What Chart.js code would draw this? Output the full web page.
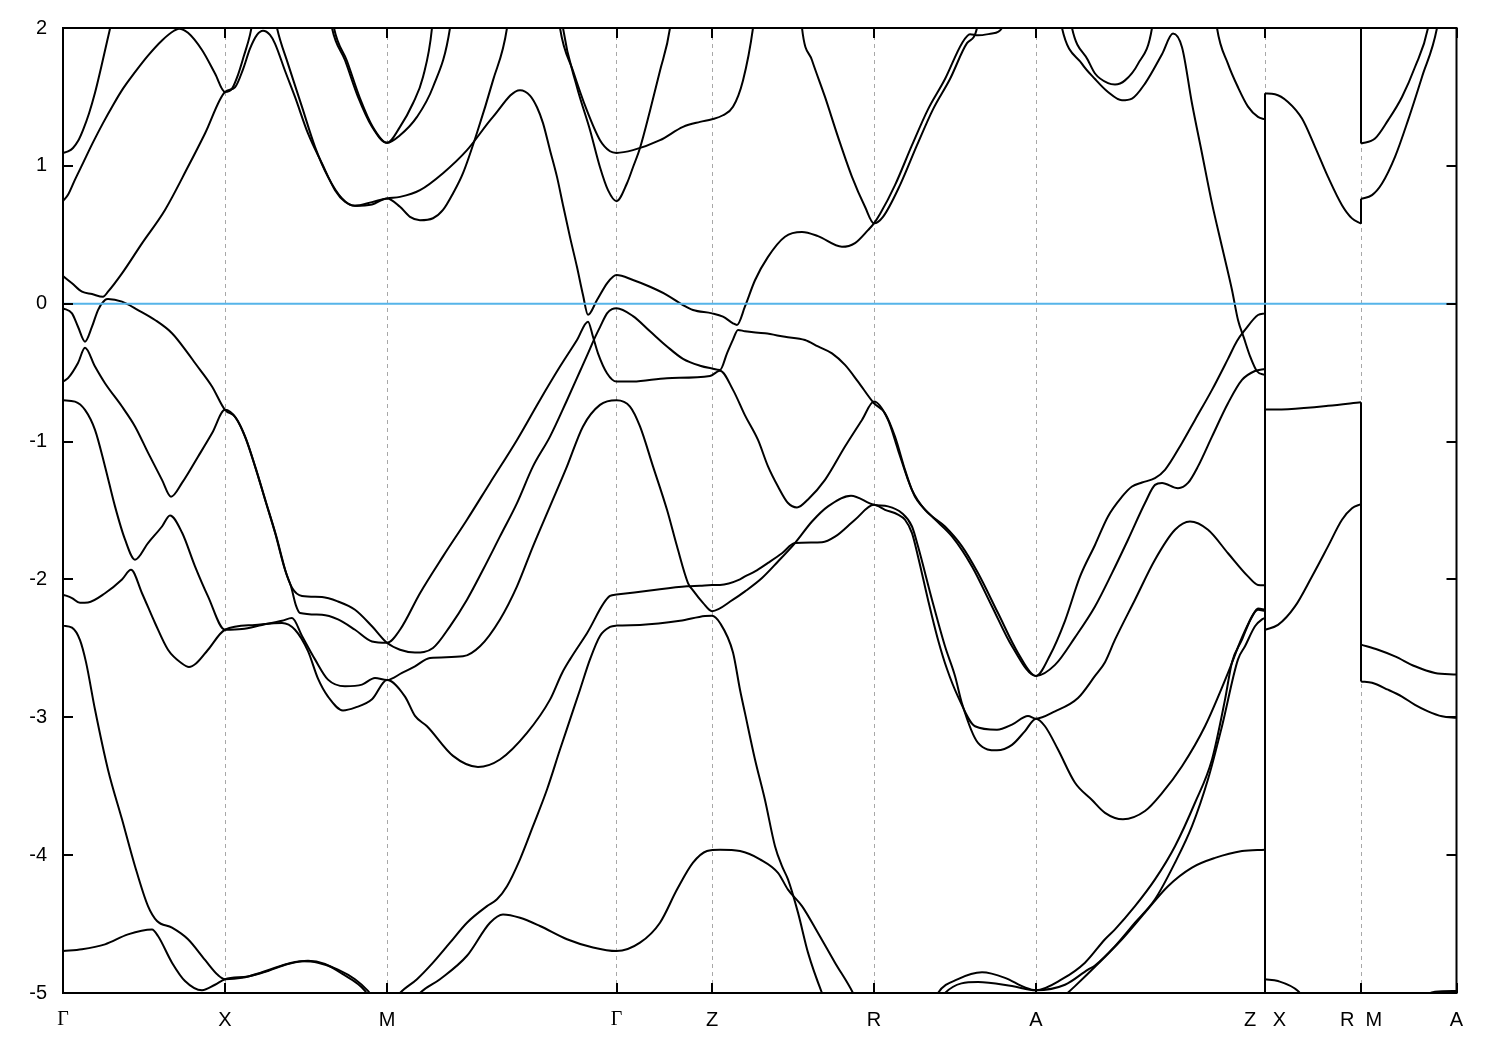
<!DOCTYPE html>
<html>
<head>
<meta charset="utf-8">
<title>Band structure</title>
<script src="https://cdn.jsdelivr.net/npm/chart.js@4.4.1/dist/chart.umd.min.js"></script>
<style>
  html, body { margin: 0; padding: 0; background: #fff; }
  #wrap { width: 1500px; height: 1050px; }
</style>
</head>
<body>
<div id="wrap"><canvas id="bands" width="1500" height="1050"></canvas></div>
<script>
// high symmetry points along the k-path (path length, arbitrary units)
const kTicks = [0, 1.62, 3.24, 5.535, 6.49, 8.11, 9.73, 12.02, 12.98, 13.935];
const kLabels = ['Γ', 'X', 'M', 'Γ', 'Z', 'R', 'A', 'Z   X', 'R  M', 'A'];
const energyMin = -5;
const energyMax = 2;
const fermiLevel = 0;

// bands along Γ-X-M-Γ-Z-R-A-Z, points are [k, E(eV)]
const cb1 = [[0,1.094],[0.05,1.105],[0.10,1.13],[0.15,1.18],[0.20,1.26],[0.26,1.38],[0.32,1.53],[0.38,1.71],[0.44,1.90],[0.48,2.03],[0.52,2.2]];
const cb2 = [[0,0.744],[0.05,0.79],[0.12,0.90],[0.20,1.02],[0.30,1.17],[0.40,1.31],[0.50,1.44],[0.60,1.56],[0.72,1.68],[0.85,1.80],[0.99,1.91],[1.11,1.98],[1.16,1.995],[1.25,1.965],[1.39,1.84],[1.52,1.67],[1.62,1.536],[1.69,1.56],[1.75,1.66],[1.81,1.80],[1.87,1.95],[1.91,2.1]];
const cb3 = [[0,0.20],[0.09,0.148],[0.19,0.087],[0.29,0.07],[0.40,0.05],[0.45,0.087],[0.59,0.22],[0.79,0.438],[1.02,0.68],[1.25,0.993],[1.42,1.235],[1.62,1.536],[1.72,1.57],[1.80,1.70],[1.87,1.85],[1.94,1.95],[2.00,1.98],[2.07,1.95],[2.12,1.887],[2.22,1.69],[2.32,1.50],[2.45,1.235],[2.59,1.017],[2.72,0.824],[2.82,0.739],[2.92,0.71],[3.09,0.737],[3.24,0.764],[3.37,0.775],[3.57,0.824],[3.80,0.947],[4.04,1.114],[4.30,1.355],[4.57,1.549],[4.67,1.51],[4.74,1.425],[4.80,1.31],[4.87,1.114],[4.94,0.92],[5.00,0.715],[5.07,0.483],[5.14,0.266],[5.20,0.063],[5.25,-0.08],[5.34,0.027],[5.44,0.148],[5.50,0.196],[5.535,0.208],[5.70,0.172],[5.87,0.123],[6.04,0.063],[6.20,-0.01],[6.30,-0.046],[6.49,-0.07],[6.60,-0.094],[6.70,-0.142],[6.74,-0.154],[6.82,-0.02],[6.92,0.17],[7.05,0.34],[7.22,0.486],[7.39,0.52],[7.55,0.49],[7.79,0.413],[7.92,0.44],[8.05,0.534],[8.11,0.583],[8.17,0.65],[8.32,0.86],[8.49,1.15],[8.65,1.41],[8.82,1.63],[8.99,1.89],[9.07,1.955],[9.15,1.947],[9.29,1.96],[9.39,2.0],[9.43,2.2]];
const cb4 = [[2.09,2.2],[2.14,2.0],[2.25,1.74],[2.39,1.428],[2.52,1.138],[2.65,0.92],[2.79,0.764],[2.92,0.71],[3.09,0.72],[3.24,0.764],[3.37,0.703],[3.47,0.63],[3.57,0.606],[3.70,0.62],[3.80,0.68],[3.90,0.80],[4.00,0.947],[4.14,1.24],[4.30,1.62],[4.44,2.0],[4.47,2.2]];
const cb5 = [[2.65,2.2],[2.69,2.0],[2.82,1.766],[2.95,1.50],[3.09,1.283],[3.24,1.167],[3.37,1.283],[3.50,1.454],[3.60,1.645],[3.69,2.0],[3.71,2.2]];
const cb6 = [[2.67,2.2],[2.71,2.0],[2.84,1.76],[2.97,1.49],[3.10,1.28],[3.24,1.167],[3.37,1.222],[3.54,1.355],[3.70,1.572],[3.87,2.0],[3.90,2.2]];
const cb7 = [[4.94,2.2],[4.97,2.0],[5.10,1.69],[5.24,1.40],[5.37,1.186],[5.47,1.106],[5.535,1.094],[5.70,1.114],[5.97,1.186],[6.20,1.283],[6.37,1.319],[6.49,1.338],[6.60,1.367],[6.70,1.428],[6.80,1.62],[6.90,2.0],[6.93,2.2]];
const cb8 = [[4.97,2.2],[5.00,2.0],[5.14,1.57],[5.27,1.26],[5.37,0.99],[5.45,0.824],[5.535,0.744],[5.64,0.874],[5.70,0.99],[5.77,1.13],[5.87,1.40],[5.97,1.69],[6.07,2.0],[6.10,2.2]];
const cb9 = [[7.37,2.2],[7.39,2.0],[7.49,1.766],[7.62,1.50],[7.75,1.21],[7.89,0.92],[8.02,0.703],[8.11,0.583],[8.20,0.63],[8.37,0.86],[8.54,1.15],[8.70,1.41],[8.87,1.63],[9.04,1.89],[9.14,2.0],[9.17,2.2]];
const cb10 = [[9.95,2.2],[9.99,2.0],[10.19,1.74],[10.32,1.63],[10.45,1.536],[10.59,1.476],[10.69,1.488],[10.82,1.597],[10.99,1.81],[11.10,1.96],[11.19,1.86],[11.29,1.452],[11.39,1.09],[11.49,0.728],[11.59,0.413],[11.69,0.1],[11.75,-0.118],[11.81,-0.25],[11.87,-0.38],[11.94,-0.49],[12.02,-0.518]];
const cb11 = [[10.05,2.2],[10.09,2.0],[10.25,1.766],[10.32,1.67],[10.45,1.60],[10.52,1.59],[10.62,1.62],[10.75,1.74],[10.89,2.0],[10.92,2.2]];
const cb12 = [[11.51,2.2],[11.54,2.0],[11.65,1.74],[11.75,1.57],[11.85,1.43],[11.95,1.355],[12.02,1.336]];

const vb1 = [[0,-0.033],[0.09,-0.07],[0.15,-0.167],[0.22,-0.275],[0.29,-0.167],[0.35,-0.046],[0.42,0.027],[0.45,0.034],[0.59,0.015],[0.75,-0.046],[0.92,-0.118],[1.09,-0.214],[1.25,-0.36],[1.32,-0.43],[1.49,-0.60],[1.62,-0.77],[1.72,-0.82],[1.82,-0.964],[1.92,-1.18],[2.02,-1.42],[2.12,-1.66],[2.22,-1.93],[2.29,-2.06],[2.39,-2.12],[2.59,-2.128],[2.75,-2.16],[2.92,-2.22],[3.09,-2.34],[3.24,-2.46],[3.37,-2.51],[3.52,-2.53],[3.70,-2.497],[3.87,-2.34],[4.04,-2.147],[4.20,-1.93],[4.37,-1.688],[4.54,-1.446],[4.70,-1.18],[4.87,-0.964],[5.04,-0.70],[5.17,-0.49],[5.25,-0.36],[5.31,-0.26],[5.37,-0.17],[5.44,-0.07],[5.49,-0.04],[5.535,-0.033],[5.70,-0.09],[5.87,-0.20],[6.04,-0.31],[6.20,-0.40],[6.37,-0.45],[6.49,-0.47],[6.57,-0.48],[6.64,-0.36],[6.70,-0.26],[6.75,-0.19],[6.82,-0.20],[7.02,-0.215],[7.22,-0.24],[7.42,-0.263],[7.55,-0.31],[7.69,-0.36],[7.82,-0.444],[7.95,-0.565],[8.11,-0.722],[8.22,-0.794],[8.32,-0.964],[8.42,-1.205],[8.49,-1.35],[8.62,-1.495],[8.82,-1.616],[8.99,-1.76],[9.15,-1.954],[9.35,-2.244],[9.55,-2.533],[9.73,-2.70],[9.87,-2.55],[10.02,-2.30],[10.17,-1.98],[10.32,-1.75],[10.45,-1.543],[10.59,-1.40],[10.69,-1.326],[10.79,-1.297],[10.92,-1.265],[11.02,-1.205],[11.19,-1.01],[11.32,-0.843],[11.49,-0.625],[11.65,-0.40],[11.74,-0.27],[11.82,-0.19],[11.95,-0.082],[12.02,-0.07]];
const vb2 = [[0,-0.565],[0.05,-0.54],[0.15,-0.43],[0.22,-0.32],[0.32,-0.456],[0.42,-0.577],[0.59,-0.746],[0.72,-0.89],[0.85,-1.08],[0.99,-1.278],[1.08,-1.40],[1.19,-1.30],[1.35,-1.11],[1.49,-0.94],[1.62,-0.77],[1.73,-0.83],[1.83,-0.98],[1.93,-1.20],[2.03,-1.44],[2.13,-1.68],[2.23,-1.95],[2.28,-2.05],[2.33,-2.19],[2.37,-2.243],[2.59,-2.256],[2.75,-2.29],[2.92,-2.365],[3.09,-2.45],[3.24,-2.46],[3.37,-2.365],[3.57,-2.10],[3.80,-1.833],[4.04,-1.567],[4.27,-1.30],[4.54,-0.988],[4.77,-0.698],[4.97,-0.456],[5.14,-0.263],[5.25,-0.13],[5.30,-0.24],[5.35,-0.36],[5.44,-0.504],[5.535,-0.565],[5.70,-0.565],[6.04,-0.54],[6.47,-0.524],[6.57,-0.486],[6.70,-0.625],[6.82,-0.81],[6.95,-0.988],[7.05,-1.18],[7.15,-1.326],[7.25,-1.446],[7.34,-1.478],[7.45,-1.42],[7.62,-1.278],[7.82,-1.036],[7.99,-0.843],[8.11,-0.71],[8.25,-0.843],[8.35,-1.06],[8.45,-1.278],[8.52,-1.40],[8.69,-1.543],[8.89,-1.688],[9.09,-1.906],[9.29,-2.196],[9.49,-2.485],[9.73,-2.70],[9.92,-2.62],[10.12,-2.42],[10.32,-2.196],[10.49,-1.954],[10.65,-1.712],[10.82,-1.446],[10.92,-1.314],[10.99,-1.30],[11.15,-1.338],[11.25,-1.30],[11.35,-1.18],[11.49,-0.964],[11.65,-0.722],[11.79,-0.553],[11.92,-0.488],[12.02,-0.473]];
const vb3 = [[0,-0.70],[0.12,-0.71],[0.22,-0.77],[0.32,-0.915],[0.42,-1.18],[0.52,-1.47],[0.62,-1.71],[0.72,-1.857],[0.85,-1.736],[0.99,-1.616],[1.07,-1.536],[1.19,-1.66],[1.32,-1.905],[1.45,-2.123],[1.62,-2.365],[1.79,-2.36],[1.99,-2.33],[2.19,-2.30],[2.29,-2.28],[2.39,-2.41],[2.52,-2.58],[2.65,-2.727],[2.82,-2.775],[2.99,-2.763],[3.12,-2.715],[3.24,-2.73],[3.39,-2.678],[3.52,-2.63],[3.67,-2.57],[4.00,-2.558],[4.17,-2.485],[4.37,-2.29],[4.54,-2.05],[4.70,-1.76],[4.87,-1.47],[5.04,-1.18],[5.20,-0.89],[5.37,-0.734],[5.535,-0.70],[5.67,-0.746],[5.77,-0.89],[5.90,-1.18],[6.04,-1.495],[6.14,-1.76],[6.25,-2.026],[6.30,-2.08],[6.40,-2.17],[6.49,-2.23],[6.70,-2.147],[6.82,-2.087],[6.99,-1.99],[7.15,-1.87],[7.32,-1.736],[7.49,-1.58],[7.65,-1.47],[7.88,-1.393],[8.11,-1.459],[8.25,-1.47],[8.39,-1.52],[8.49,-1.616],[8.55,-1.76],[8.69,-2.147],[8.82,-2.485],[8.92,-2.70],[8.99,-2.90],[9.15,-3.186],[9.34,-3.24],[9.49,-3.20],[9.62,-3.10],[9.73,-3.01],[9.82,-3.065],[9.95,-3.234],[10.12,-3.475],[10.29,-3.60],[10.42,-3.693],[10.60,-3.74],[10.82,-3.68],[10.99,-3.55],[11.19,-3.355],[11.42,-3.065],[11.65,-2.678],[11.79,-2.42],[11.89,-2.27],[11.95,-2.21],[12.02,-2.22]];
const vb4 = [[0,-2.11],[0.09,-2.135],[0.17,-2.17],[0.25,-2.167],[0.42,-2.10],[0.59,-2.00],[0.68,-1.93],[0.79,-2.10],[0.92,-2.316],[1.05,-2.51],[1.19,-2.61],[1.26,-2.635],[1.33,-2.61],[1.45,-2.51],[1.62,-2.365],[1.92,-2.33],[2.19,-2.316],[2.32,-2.365],[2.45,-2.52],[2.55,-2.72],[2.65,-2.85],[2.80,-2.95],[2.92,-2.93],[3.09,-2.87],[3.24,-2.73],[3.42,-2.85],[3.52,-2.99],[3.64,-3.065],[3.90,-3.28],[4.15,-3.36],[4.37,-3.306],[4.64,-3.113],[4.87,-2.872],[4.99,-2.68],[5.07,-2.58],[5.24,-2.39],[5.47,-2.12],[5.535,-2.11],[5.87,-2.08],[6.24,-2.05],[6.37,-2.046],[6.49,-2.04],[6.57,-2.04],[6.77,-2.0],[6.82,-1.978],[6.92,-1.942],[7.05,-1.88],[7.19,-1.81],[7.32,-1.736],[7.59,-1.73],[7.72,-1.69],[7.92,-1.567],[8.11,-1.459],[8.22,-1.495],[8.35,-1.53],[8.42,-1.567],[8.49,-1.664],[8.55,-1.833],[8.65,-2.147],[8.75,-2.437],[8.84,-2.65],[8.95,-2.85],[9.12,-3.065],[9.34,-3.09],[9.49,-3.053],[9.65,-2.99],[9.73,-3.01],[9.92,-2.957],[10.15,-2.86],[10.32,-2.70],[10.42,-2.60],[10.52,-2.437],[10.72,-2.147],[10.92,-1.857],[11.12,-1.64],[11.27,-1.58],[11.45,-1.64],[11.65,-1.81],[11.85,-1.978],[11.95,-2.04],[12.02,-2.043]];
const vb5 = [[0,-2.335],[0.09,-2.35],[0.17,-2.44],[0.23,-2.6],[0.32,-2.944],[0.45,-3.38],[0.59,-3.74],[0.72,-4.08],[0.85,-4.37],[0.94,-4.478],[1.09,-4.526],[1.25,-4.61],[1.42,-4.76],[1.55,-4.87],[1.62,-4.90],[1.79,-4.89],[1.99,-4.85],[2.19,-4.80],[2.39,-4.77],[2.55,-4.78],[2.75,-4.83],[2.92,-4.90],[3.05,-4.985],[3.12,-5.05]];
const vb6 = [[0,-4.696],[0.19,-4.683],[0.42,-4.647],[0.65,-4.575],[0.89,-4.54],[0.95,-4.587],[1.09,-4.78],[1.22,-4.913],[1.39,-4.98],[1.52,-4.94],[1.62,-4.90],[1.85,-4.88],[2.05,-4.84],[2.25,-4.79],[2.45,-4.766],[2.62,-4.79],[2.79,-4.86],[3.02,-4.985],[3.07,-5.05]];
const vb7 = [[3.32,-5.05],[3.37,-5.0],[3.54,-4.90],[3.70,-4.78],[3.87,-4.635],[4.04,-4.49],[4.24,-4.37],[4.34,-4.32],[4.44,-4.225],[4.57,-4.03],[4.70,-3.79],[4.84,-3.524],[4.97,-3.234],[5.07,-3.017],[5.17,-2.80],[5.27,-2.58],[5.37,-2.41],[5.47,-2.345],[5.535,-2.335],[5.77,-2.33],[6.17,-2.30],[6.42,-2.265],[6.49,-2.263],[6.57,-2.316],[6.70,-2.53],[6.77,-2.80],[6.82,-2.97],[6.92,-3.306],[7.02,-3.6],[7.12,-3.935],[7.19,-4.08],[7.25,-4.176],[7.35,-4.417],[7.45,-4.707],[7.59,-5.0],[7.62,-5.05]];
const vb8 = [[3.52,-5.05],[3.57,-5.0],[3.77,-4.90],[4.04,-4.73],[4.27,-4.49],[4.40,-4.43],[4.57,-4.454],[4.77,-4.514],[5.04,-4.61],[5.30,-4.67],[5.535,-4.696],[5.77,-4.635],[5.97,-4.49],[6.14,-4.25],[6.30,-4.055],[6.44,-3.97],[6.57,-3.96],[6.77,-3.97],[6.97,-4.03],[7.15,-4.128],[7.25,-4.25],[7.39,-4.37],[7.55,-4.565],[7.72,-4.78],[7.90,-5.0],[7.93,-5.05]];
const vb9 = [[8.72,-5.05],[8.75,-5.0],[8.95,-4.90],[9.19,-4.85],[9.42,-4.89],[9.62,-4.96],[9.73,-4.98],[9.99,-4.90],[10.22,-4.78],[10.42,-4.61],[10.52,-4.538],[10.72,-4.37],[10.92,-4.176],[11.12,-3.935],[11.32,-3.62],[11.49,-3.306],[11.62,-2.872],[11.69,-2.6],[11.79,-2.437],[11.89,-2.268],[11.95,-2.22],[12.02,-2.23]];
const vb10 = [[8.79,-5.05],[8.82,-5.0],[9.15,-4.92],[9.49,-4.95],[9.73,-4.98],[10.02,-4.94],[10.25,-4.83],[10.32,-4.80],[10.52,-4.66],[10.72,-4.49],[10.92,-4.32],[11.12,-4.055],[11.29,-3.79],[11.45,-3.45],[11.59,-3.065],[11.75,-2.58],[11.82,-2.485],[11.92,-2.34],[11.99,-2.29],[12.02,-2.28]];
const vb11 = [[9.97,-5.05],[10.12,-4.95],[10.32,-4.81],[10.59,-4.61],[10.82,-4.416],[11.05,-4.225],[11.29,-4.09],[11.52,-4.02],[11.79,-3.97],[12.02,-3.96]];

// X-R segment
const xr0 = [[12.02,2.3],[12.98,2.3]];
const xr1 = [[12.02,1.525],[12.12,1.52],[12.25,1.464],[12.39,1.343],[12.52,1.138],[12.65,0.92],[12.79,0.715],[12.89,0.619],[12.98,0.58]];
const xr2 = [[12.02,-0.768],[12.25,-0.765],[12.65,-0.741],[12.98,-0.714]];
const xr3 = [[12.02,-2.365],[12.15,-2.33],[12.32,-2.196],[12.49,-1.978],[12.65,-1.76],[12.79,-1.567],[12.89,-1.483],[12.98,-1.454]];
const xr4 = [[12.02,-4.90],[12.15,-4.913],[12.35,-4.985],[12.42,-5.05],[12.98,-5.3]];
const xr5 = [[12.02,-5.3],[12.98,-5.4]];

// M-A segment
const ma1 = [[12.98,1.162],[13.12,1.198],[13.25,1.33],[13.39,1.50],[13.52,1.717],[13.65,2.0],[13.69,2.2]];
const ma2 = [[12.98,0.761],[13.09,0.788],[13.19,0.872],[13.32,1.065],[13.45,1.33],[13.59,1.645],[13.74,2.0],[13.78,2.2]];
const ma3 = [[12.98,-2.473],[13.15,-2.51],[13.32,-2.558],[13.52,-2.63],[13.72,-2.678],[13.935,-2.69]];
const ma4 = [[12.98,-2.741],[13.09,-2.75],[13.25,-2.80],[13.39,-2.85],[13.52,-2.91],[13.65,-2.957],[13.79,-2.993],[13.935,-3.004]];
const ma5 = [[12.98,-5.2],[13.5,-5.06],[13.72,-4.99],[13.935,-4.985]];

const bandLines = [cb1, cb2, cb3, cb4, cb5, cb6, cb7, cb8, cb9, cb10, cb11, cb12,
  vb1, vb2, vb3, vb4, vb5, vb6, vb7, vb8, vb9, vb10, vb11,
  xr1, xr2, xr3, xr4, ma1, ma2, ma3, ma4, ma5];

// bands continue across the path breaks Z|X and R|M
const breakLinks = [
  [cb12, xr1], [cb10, xr1], [vb1, xr2], [vb2, xr3], [vb4, xr3],
  [vb3, xr4], [vb9, xr4], [vb10, xr4], [vb11, xr5],
  [xr0, ma1], [xr1, ma2], [xr2, ma3], [xr3, ma4]
];

function toPoints(arr) {
  return arr.map(p => ({ x: p[0], y: p[1] }));
}

function linkPoints(from, to) {
  const a = from[from.length - 1];
  const b = to[0];
  return [{ x: a[0], y: a[1] }, { x: b[0], y: b[1] }];
}

const lineStyle = {
  borderColor: '#000',
  borderWidth: 2,
  pointRadius: 0,
  fill: false,
  order: 1
};

const datasets = [];
bandLines.forEach(b => {
  datasets.push(Object.assign({}, lineStyle, { data: toPoints(b), cubicInterpolationMode: 'monotone' }));
});
breakLinks.forEach(l => {
  datasets.push(Object.assign({}, lineStyle, { data: linkPoints(l[0], l[1]), tension: 0 }));
});
datasets.push({
  data: [{ x: kTicks[0], y: fermiLevel }, { x: kTicks[kTicks.length - 1], y: fermiLevel }],
  borderColor: '#56b4e9',
  borderWidth: 2,
  pointRadius: 0,
  tension: 0,
  order: 0
});

// frame and inner tick marks, gnuplot style
const framePlugin = {
  id: 'frame',
  afterDatasetsDraw(chart) {
    const { ctx, chartArea: a, scales } = chart;
    const x = scales.x, y = scales.y;
    ctx.save();
    ctx.strokeStyle = '#000';
    ctx.lineWidth = 2;
    ctx.beginPath();
    y.ticks.forEach(t => {
      const py = Math.round(y.getPixelForValue(t.value));
      ctx.moveTo(a.left, py); ctx.lineTo(a.left + 10, py);
      ctx.moveTo(a.right, py); ctx.lineTo(a.right - 10, py);
    });
    kTicks.forEach(k => {
      const px = Math.round(x.getPixelForValue(k));
      ctx.moveTo(px, a.top); ctx.lineTo(px, a.top + 10);
      ctx.moveTo(px, a.bottom); ctx.lineTo(px, a.bottom - 10);
    });
    ctx.stroke();
    ctx.strokeRect(a.left, a.top, a.right - a.left, a.bottom - a.top);
    ctx.restore();
  }
};

Chart.defaults.font.family = "'Liberation Sans', Arial, sans-serif";

new Chart(document.getElementById('bands'), {
  type: 'line',
  data: { datasets: datasets },
  options: {
    responsive: false,
    animation: false,
    devicePixelRatio: 1,
    layout: { padding: { left: 0, right: 43.5, top: 28, bottom: 0 } },
    plugins: {
      legend: { display: false },
      tooltip: { enabled: false }
    },
    scales: {
      x: {
        type: 'linear',
        min: kTicks[0],
        max: kTicks[kTicks.length - 1],
        afterBuildTicks(scale) {
          scale.ticks = kTicks.map(v => ({ value: v }));
        },
        afterFit(scale) { scale.height = 57; },
        ticks: {
          autoSkip: false,
          maxRotation: 0,
          minRotation: 0,
          padding: 15,
          color: '#000',
          font: ctx => ({
            family: ctx.tick && ctx.tick.label === 'Γ' ? "'Liberation Serif', serif" : "'Liberation Sans', Arial, sans-serif",
            size: 20
          }),
          callback: (v, i) => kLabels[i]
        },
        grid: { color: '#a8a8a8', lineWidth: 1, drawTicks: false },
        border: { display: false, dash: [4, 4] }
      },
      y: {
        min: energyMin,
        max: energyMax,
        afterFit(scale) { scale.width = 63; },
        ticks: {
          stepSize: 1,
          padding: 16,
          color: '#000',
          font: { size: 20 },
          callback: v => String(v)
        },
        grid: { display: false, drawTicks: false },
        border: { display: false }
      }
    }
  },
  plugins: [framePlugin]
});
</script>
</body>
</html>
